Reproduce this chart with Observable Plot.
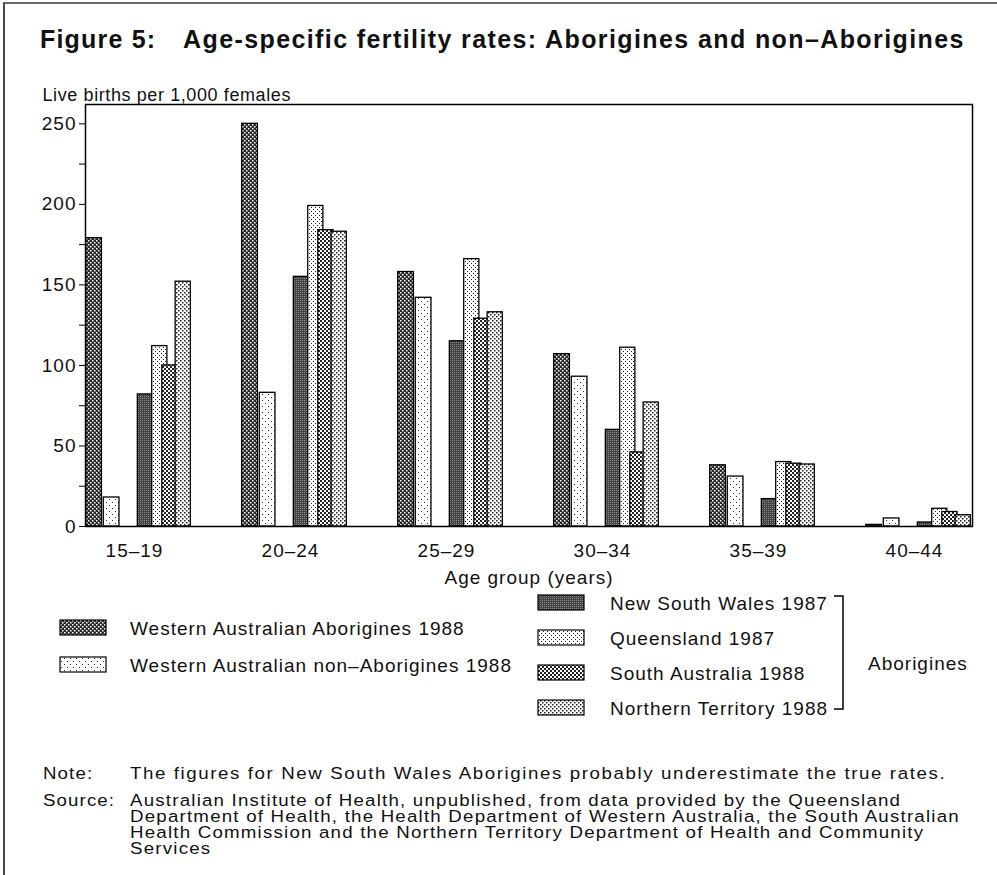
<!DOCTYPE html>
<html>
<head>
<meta charset="utf-8">
<script src="https://cdn.jsdelivr.net/npm/d3@7"></script>
<script src="https://cdn.jsdelivr.net/npm/@observablehq/plot@0.6"></script>
<style>
  html, body { margin: 0; padding: 0; background: #fff; }
  #page { position: relative; width: 997px; height: 875px; overflow: hidden; background: #fff; }
  #chart { position: absolute; left: 0; top: 0; }
  #overlay { position: absolute; left: 0; top: 0; pointer-events: none; }
  #border { position: absolute; left: 3px; top: 2px; width: 1000px; height: 880px;
            border-top: 2px solid #666; border-left: 2px solid #444; }
</style>
</head>
<body>
<div id="page">
  <div id="chart"></div>
  <svg id="overlay" width="997" height="875"></svg>
  <div id="border"></div>
</div>
<script>
// ---------- data ----------
const ages = ["15–19", "20–24", "25–29", "30–34", "35–39", "40–44"];
const seriesNames = [
  "Western Australian Aborigines 1988",
  "Western Australian non–Aborigines 1988",
  "New South Wales 1987",
  "Queensland 1987",
  "South Australia 1988",
  "Northern Territory 1988"
];
const waAborigines      = [179, 250, 158, 107, 38, 1];
const waNonAborigines   = [18, 83, 142, 93, 31, 5];
const newSouthWales     = [82, 155, 115, 60, 17, 2.5];
const queensland        = [112, 199, 166, 111, 40, 11];
const southAustralia    = [100, 184, 129, 46, 39, 9];
const northernTerritory = [152, 183, 133, 77, 38.5, 7];
const yTicks = [0, 25, 50, 75, 100, 125, 150, 175, 200, 225, 250];
const titleLabel = "Figure 5:";
const titleText = "Age-specific fertility rates: Aborigines and non–Aborigines";
const yLabel = "Live births per 1,000 females";
const xLabel = "Age group (years)";
const bracketLabel = "Aborigines";
const noteLabel = "Note:";
const noteLines = ["The figures for New South Wales Aborigines probably underestimate the true rates."];
const sourceLabel = "Source:";
const sourceLines = [
  "Australian Institute of Health, unpublished, from data provided by the Queensland",
  "Department of Health, the Health Department of Western Australia, the South Australian",
  "Health Commission and the Northern Territory Department of Health and Community",
  "Services"
];

// ---------- layout / style ----------
const W = 997, H = 600, ML = 85, MR = 25, MT = 104, MB = 74;
const FONT = "'Liberation Sans', Arial, Helvetica, sans-serif";
const FS = 19, LS = "1px";
const padInner = 0.318;
// position of each series inside its age-group band (fractions of band width)
const slot = [[0, 0.165], [0.165, 0.33], [0.485, 0.645], [0.62, 0.78], [0.715, 0.875], [0.84, 1.0]];
const patternIds = ["pWAA", "pWAN", "pNSW", "pQLD", "pSA", "pNT"];

const seriesValues = [waAborigines, waNonAborigines, newSouthWales, queensland, southAustralia, northernTerritory];
const bw = d3.scaleBand().domain(ages).range([ML, W - MR]).paddingInner(padInner).paddingOuter(0).bandwidth();

const barMarks = seriesValues.map((vals, i) =>
  Plot.barY(ages.map((age, j) => ({age, value: vals[j], series: seriesNames[i]})), {
    x: "age", y: "value",
    fill: `url(#${patternIds[i]})`,
    stroke: "#000", strokeWidth: 1.3,
    insetLeft: slot[i][0] * bw + 0.7,
    insetRight: (1 - slot[i][1]) * bw + 0.7
  })
);

const chart = Plot.plot({
  width: W, height: H,
  marginLeft: ML, marginRight: MR, marginTop: MT, marginBottom: MB,
  style: `font-family: ${FONT}; font-size: ${FS}px; letter-spacing: ${LS}; color: #111; background: transparent;`,
  x: {type: "band", domain: ages, paddingInner: padInner, paddingOuter: 0, align: 0.5},
  y: {domain: [0, 262]},
  marks: [
    ...barMarks,
    Plot.frame({stroke: "#000", strokeWidth: 1.5}),
    Plot.axisY({ticks: yTicks, tickFormat: d => d % 50 === 0 ? String(d) : "", tickSize: 6, tickPadding: 3,
                fontSize: FS, label: null, stroke: "#000"}),
    Plot.axisX({tickSize: 0, tickPadding: 17, dx: -4, fontSize: FS, label: null}),
    Plot.text([yLabel], {frameAnchor: "top-left", lineAnchor: "bottom", textAnchor: "start", dx: -43, dy: -4,
                         fontSize: 18, text: d => d, style: "letter-spacing: 0.6px"}),
    Plot.text([xLabel], {frameAnchor: "bottom", lineAnchor: "middle", dy: 51, fontSize: FS, text: d => d})
  ]
});
document.getElementById("chart").appendChild(chart);
// y label letter spacing
d3.select(chart).selectAll("text").filter(function () { return this.textContent === yLabel; })
  .attr("letter-spacing", "0.6px");

// ---------- patterns ----------
const svgC = d3.select(chart);
const defs = svgC.insert("defs", ":first-child");
function pat(id, size, bg, draw) {
  const p = defs.append("pattern").attr("id", id).attr("patternUnits", "userSpaceOnUse")
    .attr("width", size).attr("height", size);
  p.append("rect").attr("width", size).attr("height", size).attr("fill", bg);
  draw(p);
}
const dot = (p, x, y, s, c) => p.append("rect").attr("x", x).attr("y", y).attr("width", s).attr("height", s).attr("fill", c);
// WA Aborigines: dark checker with small white holes
pat("pWAA", 4, "#2a2a2a", p => { dot(p, 0, 0, 1.5, "#fff"); dot(p, 2, 2, 1.5, "#fff"); });
// WA non-Aborigines: sparse dots
pat("pWAN", 6, "#fff", p => { dot(p, 1, 1, 1, "#333"); dot(p, 4, 4, 1, "#333"); });
// NSW: dark fine grain
pat("pNSW", 2, "#444", p => { dot(p, 0, 0, 1, "#888"); });
// Queensland: light dots
pat("pQLD", 4, "#fff", p => { dot(p, 1, 1, 1, "#222"); dot(p, 3, 3, 1, "#222"); });
// South Australia: medium checker
pat("pSA", 4, "#fff", p => { dot(p, 0, 0, 2, "#222"); dot(p, 2, 2, 2, "#222"); });
// Northern Territory: medium-light dots
pat("pNT", 4, "#fff", p => { dot(p, 0, 0, 1.5, "#222"); dot(p, 2, 2, 1.5, "#222"); });

// ---------- overlay: title, legend, notes ----------
const ov = d3.select("#overlay");
const txt = (x, y, s, opts = {}) => ov.append("text").attr("x", x).attr("y", y)
  .attr("font-family", FONT).attr("font-size", opts.size || FS)
  .attr("font-weight", opts.weight || "normal")
  .attr("letter-spacing", opts.ls || LS).attr("fill", "#111").text(s);

txt(40, 48, titleLabel, {size: 25, weight: "bold", ls: "1.2px"});
txt(183, 48, titleText, {size: 25, weight: "bold", ls: "1.4px"});

const legendItems = [
  {i: 0, sx: 60, sy: 620, tx: 130, ty: 635},
  {i: 1, sx: 60, sy: 657, tx: 130, ty: 672},
  {i: 2, sx: 538, sy: 595, tx: 610, ty: 610},
  {i: 3, sx: 538, sy: 630, tx: 610, ty: 645},
  {i: 4, sx: 538, sy: 665, tx: 610, ty: 680},
  {i: 5, sx: 538, sy: 700, tx: 610, ty: 715}
];
legendItems.forEach(d => {
  ov.append("rect").attr("x", d.sx).attr("y", d.sy).attr("width", 46).attr("height", 15)
    .attr("fill", `url(#${patternIds[d.i]})`).attr("stroke", "#000").attr("stroke-width", 1.2);
  txt(d.tx, d.ty, seriesNames[d.i]);
});
ov.append("path").attr("d", "M834,596 H843 V709 H834").attr("fill", "none")
  .attr("stroke", "#000").attr("stroke-width", 1.5);
txt(868, 670, bracketLabel);

// notes (slightly wide lettering as in the print)
const NFS = 17, SX = 1.1;
function wideBlock(x, y, lines, ls) {
  const t = ov.append("text").attr("transform", `translate(${x},${y}) scale(${SX},1)`)
    .attr("font-family", FONT).attr("font-size", NFS).attr("letter-spacing", ls).attr("fill", "#111");
  lines.forEach((s, k) => t.append("tspan").attr("x", 0).attr("y", k * 16).text(s));
}
wideBlock(43, 779, [noteLabel], "1px");
wideBlock(130, 779, noteLines, "1.45px");
wideBlock(43, 806, [sourceLabel], "1px");
wideBlock(130, 806, sourceLines, "1.1px");
</script>
</body>
</html>
